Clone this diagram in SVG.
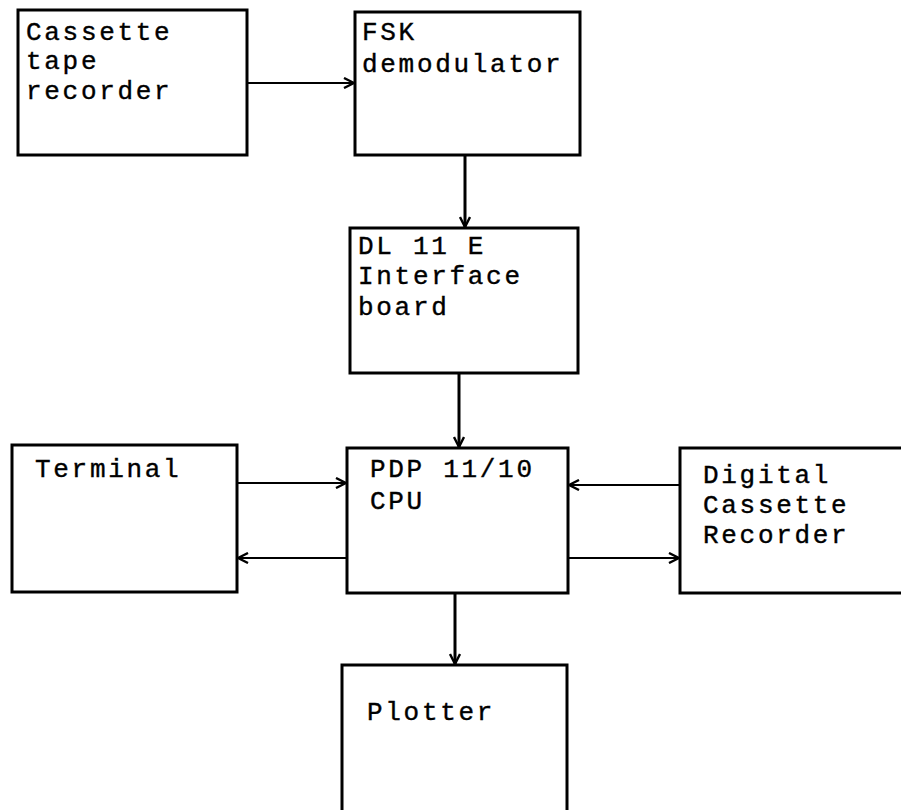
<svg xmlns="http://www.w3.org/2000/svg" width="901" height="810" viewBox="0 0 901 810">
<style>
.box{fill:none;stroke:#000;stroke-width:3}
.t{font-family:"Liberation Mono","DejaVu Sans Mono",monospace;font-size:26px;letter-spacing:2.7px;fill:#000;stroke:#000;stroke-width:0.4}
.c{fill:none;stroke:#000;stroke-width:2.2}
.v{stroke-width:3}
</style>
<defs>
<marker id="ah" viewBox="0 0 12 12" refX="11" refY="6" markerWidth="12" markerHeight="12" markerUnits="userSpaceOnUse" orient="auto">
<path d="M1,1 L11,6 L1,11" fill="none" stroke="#000" stroke-width="2.4"/>
</marker>
</defs>
<rect width="901" height="810" fill="#fff"/>
<g id="cassette">
<rect class="box" x="18" y="10" width="229" height="145"/>
<text class="t" x="26" y="40">Cassette</text>
<text class="t" x="26" y="69">tape</text>
<text class="t" x="26" y="99">recorder</text>
</g>
<g id="fsk">
<rect class="box" x="355" y="12" width="225" height="143"/>
<text class="t" x="362" y="40">FSK</text>
<text class="t" x="362" y="72">demodulator</text>
</g>
<g id="dl11e">
<rect class="box" x="350" y="228" width="228" height="145"/>
<text class="t" x="358" y="254">DL 11 E</text>
<text class="t" x="358" y="284">Interface</text>
<text class="t" x="358" y="315">board</text>
</g>
<g id="terminal">
<rect class="box" x="12" y="445" width="225" height="147"/>
<text class="t" x="35" y="477">Terminal</text>
</g>
<g id="cpu">
<rect class="box" x="347" y="448" width="221" height="145"/>
<text class="t" x="370" y="477">PDP 11/10</text>
<text class="t" x="370" y="509">CPU</text>
</g>
<g id="digital">
<rect class="box" x="680" y="448" width="240" height="145"/>
<text class="t" x="703" y="483">Digital</text>
<text class="t" x="703" y="513">Cassette</text>
<text class="t" x="703" y="543">Recorder</text>
</g>
<g id="plotter">
<rect class="box" x="342" y="665" width="225" height="160"/>
<text class="t" x="367" y="720">Plotter</text>
</g>
<g id="connectors">
<line class="c" x1="247" y1="83" x2="354" y2="83" marker-end="url(#ah)"/>
<line class="c v" x1="465" y1="156" x2="465" y2="227" marker-end="url(#ah)"/>
<line class="c v" x1="459" y1="374" x2="459" y2="447" marker-end="url(#ah)"/>
<line class="c" x1="237" y1="483" x2="346" y2="483" marker-end="url(#ah)"/>
<line class="c" x1="347" y1="558" x2="238" y2="558" marker-end="url(#ah)"/>
<line class="c" x1="680" y1="485" x2="569" y2="485" marker-end="url(#ah)"/>
<line class="c" x1="568" y1="558" x2="679" y2="558" marker-end="url(#ah)"/>
<line class="c v" x1="455" y1="594" x2="455" y2="664" marker-end="url(#ah)"/>
</g>
</svg>
